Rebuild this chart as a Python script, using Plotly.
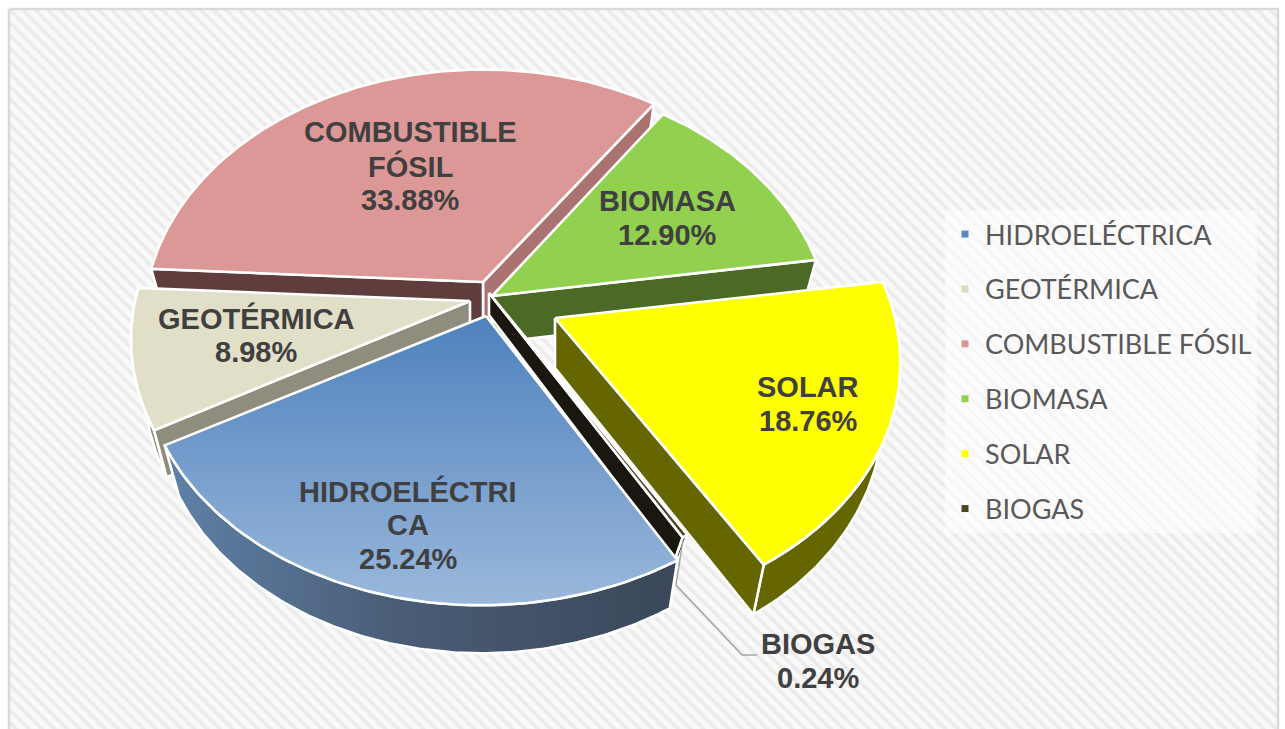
import math
import plotly.graph_objects as go

# ---- data ----
categories = ["HIDROELÉCTRICA", "GEOTÉRMICA", "COMBUSTIBLE FÓSIL", "BIOMASA", "SOLAR", "BIOGAS"]
values = [25.24, 8.98, 33.88, 12.90, 18.76, 0.24]
label_names = [["HIDROELÉCTRI", "CA"], ["GEOTÉRMICA"], ["COMBUSTIBLE", "FÓSIL"], ["BIOMASA"], ["SOLAR"], ["BIOGAS"]]

# ---- styling ----
legend_colors = ["#5B87C0", "#DDD9C3", "#DA9694", "#92D050", "#FFFF00", "#4A4527"]
top_colors = ["#7AA0D0", "#E2DFC8", "#DC9896", "#92D050", "#FFFF00", "#4A4527"]
rim_colors = ["#44566C", "#8F8D7D", "#7E5554", "#4B6A26", "#666600", "#1A1710"]
start_wall = ["#3A4A5E", "#8F8D7D", "#5E3D3C", "#4B6A26", "#666600", "#1A1710"]
end_wall = ["#3A4A5E", "#8F8D7D", "#AA7372", "#4B6A26", "#666600", "#1A1710"]
apex_px = [(486, 316), (470, 301), (483, 282), (492, 296), (555, 318), (489, 293)]
depth_px = [48, 47, 47, 47, 50, 22]
x_scale = [1.01, 1, 1, 1, 1.015, 1]
y_scale = [1, 1, 1, 1.02, 1.02, 1]
x_shear = [-0.017, 0, 0, 0, 0.03, 0]
x_shrink = [0.96, 0.96, 0.96, 0.96, 0.95, 0.96]
draw_order = [2, 3, 1, 5, 0, 4]
START_DEG = 149.9
RX, RY, PERSP = 335, 245, 0.153
label_xy = [(408, 491), (256, 318), (410, 132), (667, 201), (808, 387), (818, 644)]
LINE_GAP = 34


def project(theta, i):
    apex = apex_px[i]
    u, v = math.sin(theta), -math.cos(theta)
    f = 1 - PERSP * v
    dy = RY * v / f * y_scale[i]
    return apex[0] + RX * u / f * x_scale[i] + x_shear[i] * dy, apex[1] + dy


def lower(pt, i):
    apex = apex_px[i]
    return apex[0] + (pt[0] - apex[0]) * x_shrink[i], pt[1] + depth_px[i]


fig = go.Figure()

# hatched backdrop
fig.add_trace(go.Scatter(
    x=[9, 1278, 1278, 9, 9], y=[9, 9, 740, 740, 9], mode="lines", fill="toself",
    line=dict(color="#D9D9D9", width=2.5), fillcolor="white",
    fillpattern=dict(shape="\\", size=9, solidity=0.4, fgcolor="#EBEBEB", bgcolor="#F9F9F9", fillmode="replace"),
    hoverinfo="skip", showlegend=False))


def poly(pts, color, gradient=None):
    xs = [p[0] for p in pts] + [pts[0][0]]
    ys = [p[1] for p in pts] + [pts[0][1]]
    kw = dict(fillgradient=gradient) if gradient else dict(fillcolor=color)
    fig.add_trace(go.Scatter(x=xs, y=ys, mode="lines", fill="toself",
                             line=dict(color="white", width=2.6), hoverinfo="skip",
                             showlegend=False, **kw))


total = sum(values)
edges = [START_DEG]
for val in values:
    edges.append(edges[-1] + val / total * 360)

for i in draw_order:
    a0, a1 = math.radians(edges[i]), math.radians(edges[i + 1])
    apex = apex_px[i]
    n = max(3, int(abs(edges[i + 1] - edges[i]) * 1.5))
    thetas = [a0 + (a1 - a0) * k / n for k in range(n + 1)]
    arc = [project(t, i) for t in thetas]
    low_apex = (apex[0], apex[1] + depth_px[i])

    # outer rim: only the part that faces the viewer
    front = [project(t, i) for t in thetas if -math.cos(t) > 0]
    if len(front) > 1:
        rim_grad = None
        if i == 0:
            rim_grad = dict(type="horizontal",
                            colorscale=[[0, "#5F81A8"], [0.45, "#4A5D76"], [1, "#3A4759"]])
        poly(front + [lower(p, i) for p in front[::-1]], rim_colors[i], rim_grad)

    # radial walls: only those that face the viewer
    if math.sin(a1) > 0:
        poly([apex, arc[-1], lower(arc[-1], i), low_apex], end_wall[i])
    if math.sin(a0) < 0:
        poly([apex, arc[0], lower(arc[0], i), low_apex], start_wall[i])

    # top face
    top_grad = None
    if i == 0:
        top_grad = dict(type="vertical", colorscale=[[0, "#9AB8DB"], [1, "#4F81BD"]])
    poly([apex] + arc, top_colors[i], top_grad)

# leader line for the smallest slice
fig.add_trace(go.Scatter(x=[683, 676, 742, 757], y=[540, 585, 655, 655], mode="lines",
                         line=dict(color="#A6A6A6", width=1.5), hoverinfo="skip", showlegend=False))

# legend entries
for name, col in zip(categories, legend_colors):
    fig.add_trace(go.Scatter(x=[None], y=[None], mode="markers", name=name, legendgroup=name,
                             marker=dict(symbol="square", size=7, color=col)))

# data labels
for (lx, ly), lines, val in zip(label_xy, label_names, values):
    for k, text in enumerate(lines + [f"{val:.2f}%"]):
        fig.add_annotation(x=lx, y=ly + k * LINE_GAP, text=text, showarrow=False,
                           xanchor="center", yanchor="middle",
                           font=dict(family="Liberation Sans", size=29, color="#404040", weight="bold"))

fig.update_layout(
    width=1285, height=729, margin=dict(l=0, r=0, t=0, b=0),
    paper_bgcolor="white", plot_bgcolor="white",
    xaxis=dict(range=[0, 1285], visible=False, fixedrange=True),
    yaxis=dict(range=[729, 0], visible=False, fixedrange=True),
    legend=dict(x=945 / 1285, y=1 - 210 / 729, xanchor="left", yanchor="top",
                bgcolor="rgba(255,255,255,0.55)", tracegroupgap=16.8, itemwidth=30,
                font=dict(family="Lato", size=27, color="#595959")),
)

fig.write_html("out.html", config=dict(displayModeBar=False),
               post_script="document.body.style.margin='0';document.body.style.overflow='hidden';")
